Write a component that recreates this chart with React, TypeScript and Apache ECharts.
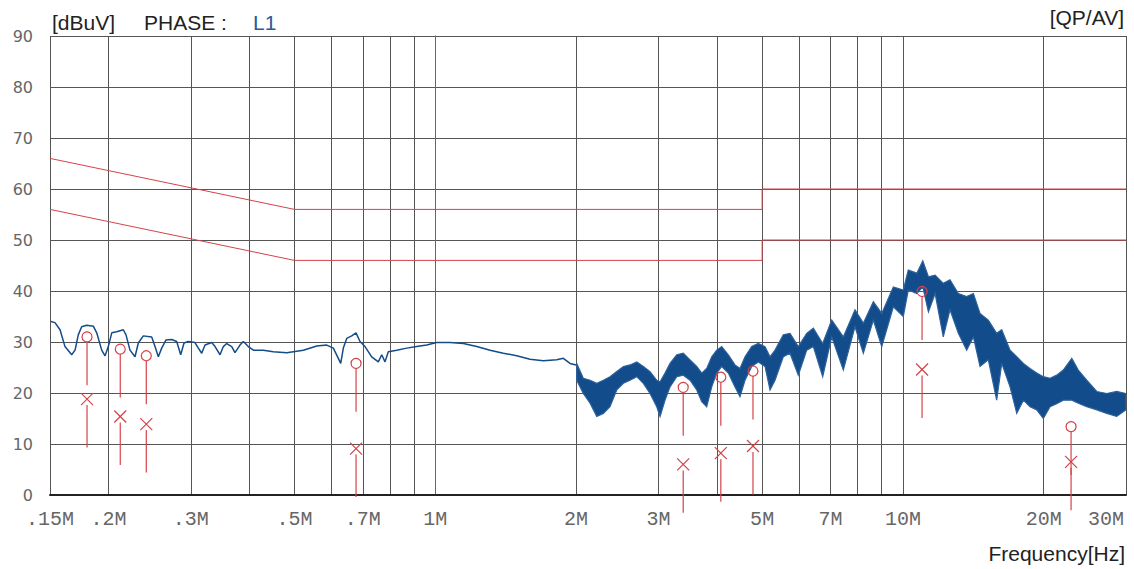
import React, { useEffect, useRef } from 'react';
import * as echarts from 'echarts';

// Log-frequency grid (MHz) and tick labels
const gridFreqs = [0.15, 0.2, 0.3, 0.4, 0.5, 0.6, 0.7, 0.8, 0.9, 1, 2, 3, 4, 5, 6, 7, 8, 9, 10, 20, 30];
const labelFreqs = [0.15, 0.2, 0.3, 0.5, 0.7, 1, 2, 3, 5, 7, 10, 20, 30];
const labelTexts = ['.15M', '.2M', '.3M', '.5M', '.7M', '1M', '2M', '3M', '5M', '7M', '10M', '20M', '30M'];

// Limit lines [MHz, dBuV]
const qpLimit: [number, number][] = [[0.15, 66], [0.5, 56], [5, 56], [5, 60], [30, 60]];
const avLimit: [number, number][] = [[0.15, 56], [0.5, 46], [5, 46], [5, 50], [30, 50]];

// Measured points
const markerFreq = [0.180, 0.212, 0.241, 0.677, 3.39, 4.08, 4.78, 10.99, 22.89];
const markerQP = [31.0, 28.6, 27.3, 25.8, 21.1, 23.1, 24.3, 39.9, 13.4];
const markerAV = [18.8, 15.4, 13.9, 9.1, 6.0, 8.2, 9.6, 24.6, 6.5];

// Scan trace below 2 MHz [MHz, dBuV]
const lowTrace: [number, number][] = [
  [0.1507, 34.0], [0.1537, 33.8], [0.1576, 32.4], [0.1615, 29.1], [0.1669, 27.5], [0.1697, 28.4],
  [0.1724, 31.4], [0.1753, 33.0], [0.1797, 33.3], [0.1857, 33.1], [0.1888, 31.8], [0.1935, 28.4],
  [0.1967, 27.3], [0.1999, 29.1], [0.2033, 31.8], [0.2083, 32.0], [0.2152, 32.4], [0.2181, 31.4],
  [0.2224, 28.4], [0.2280, 27.1], [0.2317, 29.8], [0.2375, 31.2], [0.2475, 31.0], [0.2516, 29.1],
  [0.2557, 27.1], [0.2600, 28.8], [0.2656, 30.4], [0.2731, 30.5], [0.2799, 30.1], [0.2855, 27.5],
  [0.2902, 29.8], [0.2964, 30.1], [0.3063, 29.9], [0.3114, 28.8], [0.3166, 27.8], [0.3218, 29.4],
  [0.3326, 29.9], [0.3381, 29.1], [0.3465, 27.5], [0.3522, 29.1], [0.3581, 29.7], [0.3670, 29.1],
  [0.3730, 27.9], [0.3823, 29.4], [0.3886, 30.1], [0.3983, 29.1], [0.4082, 28.4], [0.4288, 28.4],
  [0.4504, 28.1], [0.4812, 27.9], [0.5222, 28.4], [0.5578, 29.2], [0.5860, 29.4], [0.6053, 28.8],
  [0.6204, 26.8], [0.6278, 25.8], [0.6359, 28.8], [0.6466, 30.7], [0.6627, 31.2], [0.6769, 31.8],
  [0.6903, 30.1], [0.7075, 29.1], [0.7313, 27.1], [0.7554, 26.1], [0.7682, 27.5], [0.7808, 26.1],
  [0.7936, 28.1], [0.8271, 28.4], [0.8688, 28.8], [0.9126, 29.1], [0.9587, 29.4], [1.0071, 29.9],
  [1.0754, 29.9], [1.1483, 29.7], [1.2266, 29.1], [1.3097, 28.4], [1.3980, 27.8], [1.4934, 27.3],
  [1.5944, 26.6], [1.7022, 26.3], [1.8186, 26.5], [1.8787, 26.8], [1.9417, 25.8], [2.0000, 25.5],
];

// Noisy scan above 2 MHz: [MHz, upper, lower]
const highBand: [number, number, number][] = [
  [2.007, 25.8, 22.5], [2.073, 22.9, 19.9], [2.143, 22.5, 18.0], [2.215, 21.9, 15.4], [2.288, 22.5, 16.0],
  [2.364, 23.2, 17.3], [2.444, 24.2, 20.6], [2.525, 25.2, 21.9], [2.609, 25.5, 22.5], [2.697, 26.1, 23.2],
  [2.786, 25.2, 21.9], [2.879, 24.2, 19.9], [2.976, 22.5, 17.3], [3.025, 22.2, 15.4], [3.100, 23.9, 18.6],
  [3.177, 25.8, 21.2], [3.284, 27.5, 23.2], [3.392, 27.8, 23.5], [3.506, 26.5, 22.5], [3.624, 25.2, 20.6],
  [3.714, 23.9, 18.3], [3.806, 24.8, 17.3], [3.901, 27.1, 21.2], [3.998, 28.4, 23.9], [4.098, 29.1, 25.2],
  [4.233, 27.5, 23.9], [4.375, 25.5, 21.2], [4.484, 24.8, 19.3], [4.596, 27.1, 22.5], [4.750, 29.1, 25.2],
  [4.907, 29.7, 26.1], [5.072, 29.1, 25.2], [5.198, 27.1, 20.6], [5.328, 28.4, 22.5], [5.550, 31.4, 27.1],
  [5.736, 31.7, 27.8], [5.975, 29.1, 23.5], [6.228, 31.7, 28.4], [6.434, 32.7, 29.1], [6.738, 29.7, 23.2],
  [7.044, 34.3, 31.0], [7.458, 31.0, 24.5], [7.900, 36.3, 33.0], [8.230, 33.7, 27.8], [8.646, 37.9, 34.3],
  [9.011, 35.6, 29.1], [9.541, 40.8, 36.9], [10.02, 40.2, 35.0], [10.27, 44.1, 40.2], [10.71, 43.5, 39.5],
  [11.03, 45.9, 40.8], [11.34, 42.8, 35.9], [11.72, 43.1, 39.5], [12.20, 41.5, 31.0], [12.61, 42.2, 36.3],
  [13.14, 39.5, 31.7], [13.69, 38.9, 28.4], [14.15, 39.5, 31.0], [14.62, 35.6, 25.2], [15.23, 34.3, 26.5],
  [15.87, 31.7, 18.6], [16.27, 32.4, 25.8], [16.95, 28.4, 21.2], [17.52, 27.1, 16.0], [18.10, 25.8, 18.6],
  [18.70, 24.8, 17.3], [19.33, 23.9, 16.7], [19.97, 23.2, 15.0], [20.64, 22.9, 17.3], [21.33, 23.5, 17.9],
  [22.03, 24.5, 18.6], [22.97, 26.8, 18.6], [23.72, 24.5, 18.0], [24.73, 22.5, 17.3], [25.98, 20.3, 16.7],
  [27.29, 19.9, 16.0], [28.66, 20.3, 15.4], [30.00, 19.9, 16.7],
];

const lg = (f: number) => Math.log10(f);
const RED = '#d4434a';
const BLUE = '#134c8a';
const STEM = 9.5;
const TITLE_FONT = '21px "Liberation Sans"';

export default function App() {
  const ref = useRef<HTMLDivElement>(null);
  useEffect(() => {
    const chart = echarts.init(ref.current as HTMLDivElement, null, { renderer: 'svg' });
    const option: any = {
      animation: false,
      backgroundColor: '#ffffff',
      grid: { left: 50, right: 8, top: 36, bottom: 74, containLabel: false },
      xAxis: {
        type: 'value',
        min: lg(0.15),
        max: lg(30),
        axisLine: { show: true, onZero: false, lineStyle: { color: '#222', width: 2 } },
        axisTick: { show: false, customValues: gridFreqs.map(lg) },
        splitLine: { show: true, lineStyle: { color: '#555', width: 1 } },
        axisLabel: {
          customValues: labelFreqs.map(lg),
          fontFamily: 'Liberation Mono',
          fontSize: 20,
          color: '#666',
          margin: 14,
          formatter: (v: number) => {
            let best = 0;
            for (let i = 0; i < labelFreqs.length; i++) {
              if (Math.abs(lg(labelFreqs[i]) - v) < Math.abs(lg(labelFreqs[best]) - v)) best = i;
            }
            return best === labelFreqs.length - 1 ? '{r|' + labelTexts[best] + '}' : labelTexts[best];
          },
          rich: {
            r: { fontFamily: 'Liberation Mono', fontSize: 20, color: '#666', padding: [0, 40, 0, 0] },
          },
        },
      },
      yAxis: {
        type: 'value',
        min: 0,
        max: 90,
        interval: 10,
        axisLine: { show: true, lineStyle: { color: '#666', width: 1 } },
        axisTick: { show: false },
        splitLine: { show: true, lineStyle: { color: '#555', width: 1 } },
        axisLabel: { fontFamily: 'DejaVu Sans', fontSize: 16, color: '#666', margin: 17 },
      },
      graphic: [
        { type: 'text', x: 52, y: 22, style: { text: '[dBuV]', font: TITLE_FONT, fill: '#222', textVerticalAlign: 'middle', verticalAlign: 'middle' } },
        { type: 'text', x: 144, y: 22, style: { text: 'PHASE :', font: TITLE_FONT, fill: '#222', textVerticalAlign: 'middle', verticalAlign: 'middle' } },
        { type: 'text', x: 253, y: 22, style: { text: 'L1', font: TITLE_FONT, fill: '#2a5b93', textVerticalAlign: 'middle', verticalAlign: 'middle' } },
        { type: 'text', x: 1124, y: 17, style: { text: '[QP/AV]', font: TITLE_FONT, fill: '#222', textAlign: 'right', align: 'right', textVerticalAlign: 'middle', verticalAlign: 'middle' } },
        { type: 'text', x: 1125, y: 553, style: { text: 'Frequency[Hz]', font: TITLE_FONT, fill: '#222', textAlign: 'right', align: 'right', textVerticalAlign: 'middle', verticalAlign: 'middle' } },
      ],
      series: [
        {
          name: 'QP limit', type: 'line', symbol: 'none', z: 3,
          data: qpLimit.map(([f, v]) => [lg(f), v]),
          lineStyle: { color: RED, width: 1 },
        },
        {
          name: 'AV limit', type: 'line', symbol: 'none', z: 3,
          data: avLimit.map(([f, v]) => [lg(f), v]),
          lineStyle: { color: RED, width: 1 },
        },
        {
          name: 'Scan', type: 'line', symbol: 'none', z: 4,
          data: lowTrace.map(([f, v]) => [lg(f), v]),
          lineStyle: { color: BLUE, width: 1.5 },
        },
        {
          name: 'Scan HF', type: 'custom', z: 4, clip: true,
          data: [[lg(highBand[0][0]), highBand[0][1]]],
          renderItem: (_p: any, api: any) => {
            const up = highBand.map(([f, u]) => api.coord([lg(f), u]));
            const lo = highBand.map(([f, , l]) => api.coord([lg(f), l])).reverse();
            return {
              type: 'polygon',
              shape: { points: up.concat(lo) },
              style: { fill: BLUE, stroke: '#2d619c', lineWidth: 1.2 },
            };
          },
        },
        {
          name: 'QP', type: 'custom', z: 6, clip: false,
          data: markerFreq.map((f, i) => [lg(f), markerQP[i]]),
          renderItem: (_p: any, api: any) => {
            const x = api.value(0);
            const v = api.value(1);
            const c = api.coord([x, v]);
            const e = api.coord([x, v - STEM]);
            return {
              type: 'group',
              children: [
                { type: 'circle', shape: { cx: c[0], cy: c[1], r: 5 }, style: { fill: 'none', stroke: RED, lineWidth: 1.2 } },
                { type: 'line', shape: { x1: c[0], y1: c[1] + 5, x2: e[0], y2: e[1] }, style: { stroke: RED, lineWidth: 1.2 } },
              ],
            };
          },
        },
        {
          name: 'AV', type: 'custom', z: 6, clip: false,
          data: markerFreq.map((f, i) => [lg(f), markerAV[i]]),
          renderItem: (_p: any, api: any) => {
            const x = api.value(0);
            const v = api.value(1);
            const c = api.coord([x, v]);
            const e = api.coord([x, v - STEM]);
            const s = 6;
            return {
              type: 'group',
              children: [
                { type: 'line', shape: { x1: c[0] - s, y1: c[1] - s, x2: c[0] + s, y2: c[1] + s }, style: { stroke: RED, lineWidth: 1.2 } },
                { type: 'line', shape: { x1: c[0] - s, y1: c[1] + s, x2: c[0] + s, y2: c[1] - s }, style: { stroke: RED, lineWidth: 1.2 } },
                { type: 'line', shape: { x1: c[0], y1: c[1] + s, x2: e[0], y2: e[1] }, style: { stroke: RED, lineWidth: 1.2 } },
              ],
            };
          },
        },
      ],
    };
    chart.setOption(option);
    return () => chart.dispose();
  }, []);
  return (
    <div
      ref={ref}
      style={{ position: 'absolute', left: 0, top: 0, width: 1134, height: 569, background: '#fff' }}
    />
  );
}
